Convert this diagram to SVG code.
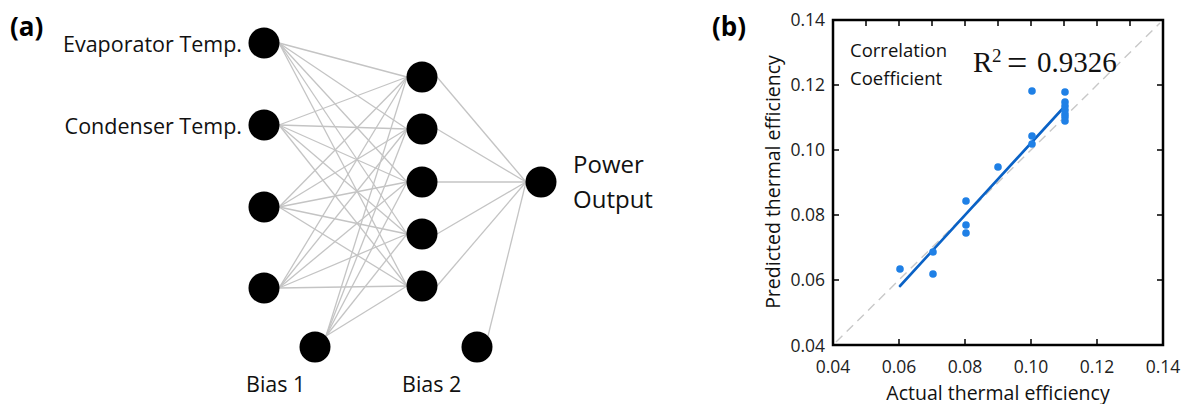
<svg xmlns="http://www.w3.org/2000/svg" width="1186" height="404" viewBox="0 0 1186 404">
<style>
.bg{fill:#ffffff}
.node{fill:#000000}
.conn line{stroke:#c4c4c4;stroke-width:1.3;fill:none}
.lbl{font-family:"Open Sans","Noto Sans","Liberation Sans",sans-serif;fill:#111111}
.panel{font-family:"Open Sans","Noto Sans","Liberation Sans",sans-serif;font-weight:bold;font-size:26px;fill:#000000}
.tick{font-family:"Open Sans","Noto Sans","Liberation Sans",sans-serif;font-size:17.5px;fill:#222222}
.axis{fill:none;stroke:#000000;stroke-width:2.5}
.tk{stroke:#000000;stroke-width:1.5}
.pt{fill:#1f80e6}
</style>
<rect class="bg" x="0" y="0" width="1186" height="404"/>

<!-- Panel (a): neural network -->
<text class="panel" x="10" y="36">(a)</text>

<g id="connectors" class="conn">
  <!-- inputs to hidden -->
  <line x1="279" y1="43" x2="407" y2="77"/><line x1="279" y1="43" x2="407" y2="129"/><line x1="279" y1="43" x2="407" y2="182"/><line x1="279" y1="43" x2="407" y2="234"/><line x1="279" y1="43" x2="407" y2="286"/>
  <line x1="279" y1="125" x2="407" y2="77"/><line x1="279" y1="125" x2="407" y2="129"/><line x1="279" y1="125" x2="407" y2="182"/><line x1="279" y1="125" x2="407" y2="234"/><line x1="279" y1="125" x2="407" y2="286"/>
  <line x1="279" y1="207" x2="407" y2="77"/><line x1="279" y1="207" x2="407" y2="129"/><line x1="279" y1="207" x2="407" y2="182"/><line x1="279" y1="207" x2="407" y2="234"/><line x1="279" y1="207" x2="407" y2="286"/>
  <line x1="279" y1="288" x2="407" y2="77"/><line x1="279" y1="288" x2="407" y2="129"/><line x1="279" y1="288" x2="407" y2="182"/><line x1="279" y1="288" x2="407" y2="234"/><line x1="279" y1="288" x2="407" y2="286"/>
  <line x1="326" y1="336" x2="407" y2="77"/><line x1="326" y1="336" x2="407" y2="129"/><line x1="326" y1="336" x2="407" y2="182"/><line x1="326" y1="336" x2="407" y2="234"/><line x1="326" y1="336" x2="407" y2="286"/>
  <!-- hidden to output -->
  <line x1="437" y1="77" x2="526" y2="182"/><line x1="437" y1="129" x2="526" y2="182"/><line x1="437" y1="182" x2="526" y2="182"/><line x1="437" y1="234" x2="526" y2="182"/><line x1="437" y1="286" x2="526" y2="182"/>
  <line x1="488" y1="336" x2="526" y2="182"/>
</g>

<g id="in1"><circle class="node" cx="264" cy="43" r="15.5"/><text class="lbl" x="242" y="52" font-size="21.5" text-anchor="end">Evaporator Temp.</text></g>
<g id="in2"><circle class="node" cx="264" cy="125" r="15.5"/><text class="lbl" x="242" y="134" font-size="21.5" text-anchor="end">Condenser Temp.</text></g>
<g id="in3"><circle class="node" cx="264" cy="207" r="15.5"/></g>
<g id="in4"><circle class="node" cx="264" cy="288" r="15.5"/></g>
<g id="bias1"><circle class="node" cx="315" cy="347" r="15.5"/><text class="lbl" x="246" y="392" font-size="21.5">Bias 1</text></g>
<g id="h1"><circle class="node" cx="422" cy="77" r="15.5"/></g>
<g id="h2"><circle class="node" cx="422" cy="129" r="15.5"/></g>
<g id="h3"><circle class="node" cx="422" cy="182" r="15.5"/></g>
<g id="h4"><circle class="node" cx="422" cy="234" r="15.5"/></g>
<g id="h5"><circle class="node" cx="422" cy="286" r="15.5"/></g>
<g id="bias2"><circle class="node" cx="477" cy="347" r="15.5"/><text class="lbl" x="402" y="392" font-size="21.5">Bias 2</text></g>
<g id="out"><circle class="node" cx="541" cy="182" r="15.5"/><text class="lbl" font-size="24"><tspan x="573" y="173">Power</tspan><tspan x="573" y="208">Output</tspan></text></g>

<!-- Panel (b): scatter plot -->
<g id="plot">
<text class="panel" x="712" y="36">(b)</text>
<line x1="836" y1="342" x2="1160" y2="23" stroke="#c8c8c8" stroke-width="1.4" stroke-dasharray="9,6"/>
<rect class="axis" x="833" y="20" width="330" height="325"/>
<!-- top ticks every 0.01 -->
<path class="tk" d="M866,20v6M899,20v6M932,20v6M965,20v6M998,20v6M1031,20v6M1064,20v6M1097,20v6M1130,20v6"/>
<!-- bottom ticks -->
<path class="tk" d="M899,345v-6M965,345v-6M1031,345v-6M1097,345v-6"/>
<!-- left ticks -->
<path class="tk" d="M833,85h6M833,150h6M833,215h6M833,280h6"/>
<!-- right ticks -->
<path class="tk" d="M1163,85h-6M1163,150h-6M1163,215h-6M1163,280h-6"/>
<g class="tick" text-anchor="end">
<text x="825" y="26">0.14</text><text x="825" y="91">0.12</text><text x="825" y="156">0.10</text><text x="825" y="221">0.08</text><text x="825" y="286">0.06</text><text x="825" y="352">0.04</text>
</g>
<g class="tick" text-anchor="middle">
<text x="833" y="373">0.04</text><text x="899" y="373">0.06</text><text x="965" y="373">0.08</text><text x="1031" y="373">0.10</text><text x="1097" y="373">0.12</text><text x="1163" y="373">0.14</text>
</g>
<text class="lbl" x="998" y="400" font-size="19.5" text-anchor="middle">Actual thermal efficiency</text>
<text class="lbl" x="0" y="0" font-size="19.5" text-anchor="middle" transform="translate(780,182) rotate(-90)">Predicted thermal efficiency</text>
<text class="lbl" x="850" y="57" font-size="18.5">Correlation</text>
<text class="lbl" x="850" y="85" font-size="18.5">Coefficient</text>
<text font-family="'Liberation Serif','Times New Roman',serif" font-size="29" fill="#111111"><tspan x="973" y="72">R</tspan><tspan x="992" y="62" font-size="19">2</tspan><tspan x="1007" y="75" font-size="36">=</tspan><tspan x="1037" y="72">0.9326</tspan></text>
<!-- fit line -->
<line x1="900" y1="286" x2="1065" y2="106" stroke="#0a62c6" stroke-width="2.6" stroke-linecap="round"/>
<!-- data points -->
<g class="pt">
<circle cx="900" cy="269" r="3.8"/>
<circle cx="933" cy="252" r="3.8"/>
<circle cx="933" cy="274" r="3.8"/>
<circle cx="966" cy="201" r="3.8"/>
<circle cx="966" cy="225" r="3.8"/>
<circle cx="966" cy="233" r="3.8"/>
<circle cx="998" cy="167" r="3.8"/>
<circle cx="1032" cy="91" r="3.8"/>
<circle cx="1032" cy="136" r="3.8"/>
<circle cx="1032" cy="144" r="3.8"/>
<circle cx="1065" cy="92" r="3.8"/>
<circle cx="1065" cy="102" r="3.8"/>
<circle cx="1065" cy="106" r="3.8"/>
<circle cx="1065" cy="110" r="3.8"/>
<circle cx="1065" cy="114" r="3.8"/>
<circle cx="1065" cy="117" r="3.8"/>
<circle cx="1065" cy="121" r="3.8"/>
</g>
</g>
</svg>
